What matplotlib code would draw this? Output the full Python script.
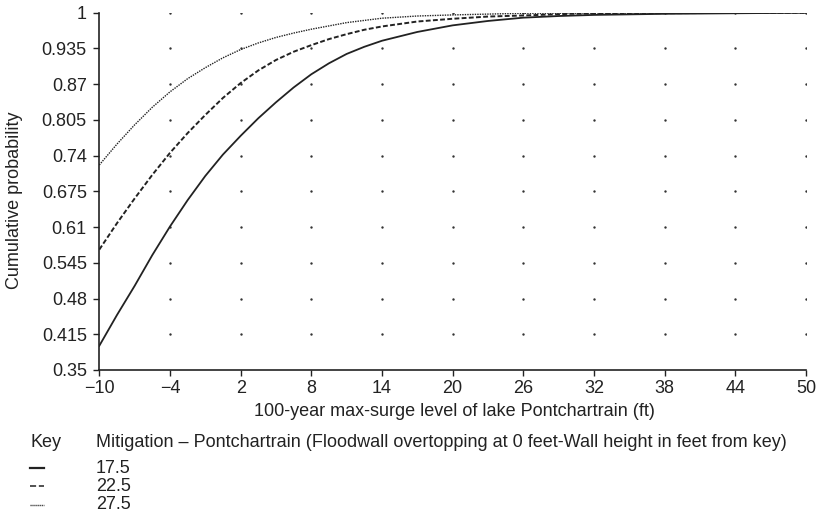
import matplotlib
matplotlib.use("Agg")
import matplotlib.pyplot as plt
from matplotlib.lines import Line2D
import numpy as np

plt.rcParams["font.family"] = ["Liberation Sans", "DejaVu Sans"]

# surge level (ft) and cumulative probability
x_175 = [-10, -8.5, -7, -5.5, -4, -2.5, -1, 0.5, 2, 3.5, 5, 6.5, 8, 9.5, 11, 12.5, 14, 17, 20, 23, 26, 29, 32, 38, 44, 50]
p_175 = [0.394, 0.450, 0.503, 0.559, 0.611, 0.659, 0.703, 0.742, 0.776, 0.808, 0.837, 0.864, 0.888, 0.908,
         0.925, 0.938, 0.949, 0.965, 0.977, 0.985, 0.991, 0.994, 0.996, 0.998, 0.999, 1.0]

x_225 = [-10, -8.5, -7, -5.5, -4, -2.5, -1, 0.5, 2, 3.5, 5, 6.5, 8, 9.5, 11, 12.5, 14, 17, 20, 23, 26, 30, 35, 50]
p_225 = [0.569, 0.617, 0.662, 0.705, 0.745, 0.781, 0.814, 0.845, 0.872, 0.895, 0.914, 0.929, 0.941, 0.952,
         0.961, 0.969, 0.975, 0.984, 0.989, 0.993, 0.995, 0.998, 0.999, 1.0]

x_275 = [-10, -8.5, -7, -5.5, -4, -2.5, -1, 0.5, 2, 3.5, 5, 6.5, 8, 11, 14, 17, 20, 26, 50]
p_275 = [0.723, 0.761, 0.796, 0.828, 0.856, 0.880, 0.900, 0.918, 0.933, 0.945, 0.955, 0.963, 0.970, 0.982,
         0.990, 0.994, 0.996, 0.999, 1.0]

x_ticks = [-10, -4, 2, 8, 14, 20, 26, 32, 38, 44, 50]
y_ticks = [0.35, 0.415, 0.48, 0.545, 0.61, 0.675, 0.74, 0.805, 0.87, 0.935, 1.0]
y_tick_labels = ["0.35", "0.415", "0.48", "0.545", "0.61", "0.675", "0.74", "0.805", "0.87", "0.935", "1"]

keys = ["17.5", "22.5", "27.5"]

FS = 13
INK = "#222222"
W, H = 822, 515

fig = plt.figure(figsize=(8.22, 5.15), dpi=100)
ax = fig.add_axes([0.1208, 0.2816, 0.8597, 0.6937])

# dotted grid: a dot at each tick intersection
gx, gy = np.meshgrid(x_ticks[1:], y_ticks[1:])
ax.scatter(gx.ravel(), gy.ravel(), s=3, color="#333333", linewidths=0, zorder=1)

styles = [
    dict(linestyle="-", linewidth=1.3),
    dict(linestyle=(0, (2.5, 1.2)), linewidth=1.4),
    dict(linestyle=(0, (1, 0.8)), linewidth=1.0),
]
for xs, ps, st in zip([x_175, x_225, x_275], [p_175, p_225, p_275], styles):
    ax.plot(xs, ps, color=INK, zorder=3, **st)

ax.set_xlim(-10, 50)
ax.set_ylim(0.35, 1.0)
ax.set_xticks(x_ticks)
ax.set_yticks(y_ticks)
ax.set_yticklabels(y_tick_labels)
ax.tick_params(direction="out", length=4, width=1, labelsize=FS, colors=INK)
ax.tick_params(axis="y", pad=5)
ax.tick_params(axis="x", pad=3)
for s in ["top", "right"]:
    ax.spines[s].set_visible(False)
for s in ["left", "bottom"]:
    ax.spines[s].set_linewidth(1.2)
    ax.spines[s].set_color(INK)

fig.text(454 / W, 1 - 416 / H, "100-year max-surge level of lake Pontchartrain (ft)",
         fontsize=FS, ha="center", va="baseline", color=INK)
fig.text(15 / W, 1 - 200 / H, "Cumulative probability", rotation=90,
         fontsize=FS, ha="center", va="center", color=INK)

# key below the chart
fig.text(30 / W, 1 - 447 / H, "Key", fontsize=FS, va="baseline", color=INK)
fig.text(96 / W, 1 - 447 / H,
         "Mitigation \u2013 Pontchartrain (Floodwall overtopping at 0 feet-Wall height in feet from key)",
         fontsize=FS, va="baseline", color=INK)
key_styles = [
    dict(linestyle="-", linewidth=1.6),
    dict(linestyle=(0, (4, 1.8)), linewidth=1.1),
    dict(linestyle=(0, (0.8, 0.6)), linewidth=1.0),
]
sym_y = [468, 486, 505]
for i, (k, st) in enumerate(zip(keys, key_styles)):
    yy = 1 - sym_y[i] / H
    fig.add_artist(Line2D([30 / W, 44 / W], [yy, yy], color=INK, transform=fig.transFigure, **st))
    fig.text(96 / W, 1 - (473 + i * 18) / H, k, fontsize=FS, va="baseline", color=INK)

fig.savefig("out.png", dpi=100)
